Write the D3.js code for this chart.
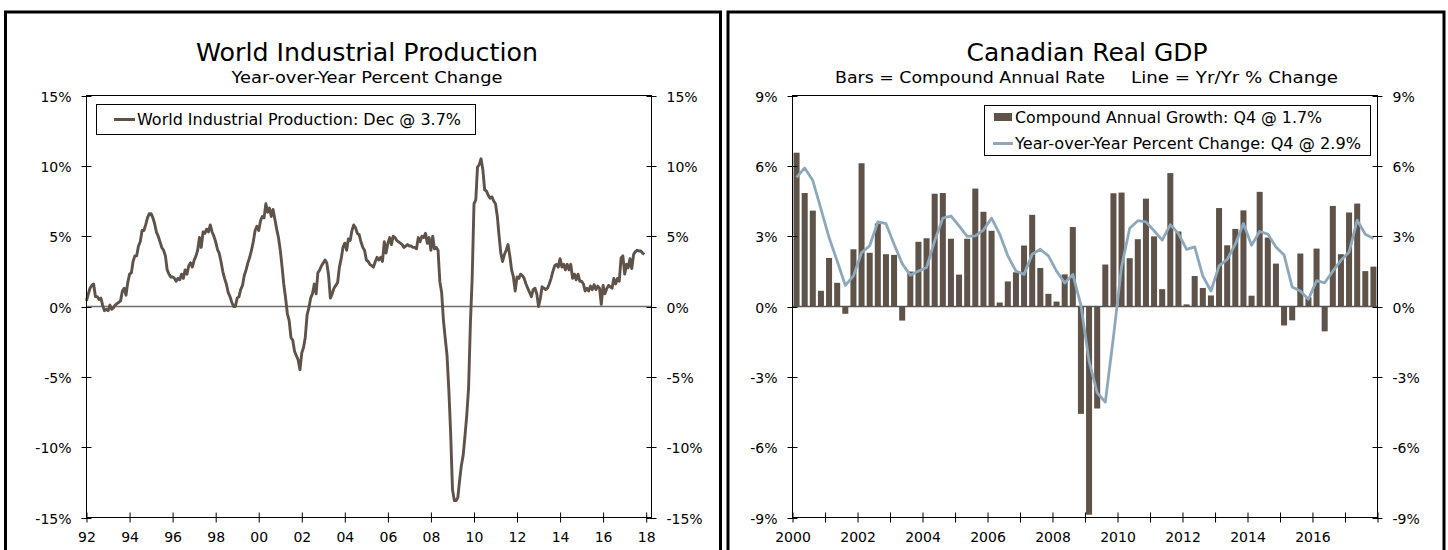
<!DOCTYPE html>
<html><head><meta charset="utf-8">
<script src="https://cdn.jsdelivr.net/npm/d3@7"></script>
<style>
body{margin:0;background:#fff}
svg{display:block}
text{font-family:"DejaVu Sans",Verdana,sans-serif;fill:#000}
</style>
</head><body>
<svg id="c" width="1448" height="550"></svg>
<script>
// ---------- DATA ----------
// World industrial production, yr/yr % change, monthly Jan 1992 .. Dec 2017
const ipStartYear = 1992;
const worldIP = [
  0.4, 0.9, 1.3, 1.5, 1.6, 0.7, 0.7, 0.5, 0.6, 0.1,-0.3,-0.2,   // 1992
 -0.3, 0.1,-0.2,-0.1, 0.1, 0.2, 0.3, 0.4, 1.1, 1.3, 0.8, 1.7,   // 1993
  2.3, 2.4, 3.2, 3.6, 3.6, 4.3, 4.6, 5.4, 5.4, 5.8, 6.3, 6.6,   // 1994
  6.6, 6.3, 5.9, 5.3, 5.0, 4.6, 4.2, 4.0, 3.6, 2.6, 2.3, 2.1,   // 1995
  2.1, 2.0, 1.8, 2.0, 1.9, 2.3, 2.0, 2.6, 2.3, 2.9, 3.1, 2.8,   // 1996
  3.3, 3.6, 4.0, 4.9, 4.2, 5.3, 5.2, 5.5, 5.3, 5.8, 5.3, 5.0,   // 1997
  4.6, 4.05,3.8, 3.2, 2.5, 2.0, 1.6, 1.0, 0.7, 0.3, 0.0, 0.0,   // 1998
  0.6, 0.7, 1.2, 1.5, 2.2, 2.6, 3.1, 3.5, 4.0, 4.6, 5.4, 5.7,   // 1999
  5.4, 6.1, 6.4, 6.3, 7.3, 6.7, 7.0, 6.4, 6.9, 6.2, 5.5, 4.9,   // 2000
  4.0, 2.8, 1.6, 0.6,-0.5,-1.0,-2.2,-2.4,-3.2,-3.5,-3.8,-4.5,   // 2001
 -3.3,-2.9,-2.2,-0.6,-0.1, 0.6, 0.9, 1.6, 0.9, 2.4, 2.6, 2.9,   // 2002
  3.1, 3.3, 3.1, 2.2, 0.6, 0.9, 1.3, 1.5, 1.7, 2.8, 3.4, 4.2,   // 2003
  4.5, 4.0, 4.8, 4.7, 5.4, 5.8, 5.6, 5.2, 5.1, 4.6, 4.2, 4.0,   // 2004
  3.3, 3.2, 3.0, 2.9, 2.8, 3.2, 3.5, 3.3, 3.5, 3.2, 4.6, 3.8,   // 2005
  4.5, 4.9, 4.4, 5.0, 4.9, 4.7, 4.6, 4.5, 4.4, 4.2, 4.3, 4.4,   // 2006
  4.3, 4.3, 4.2, 4.2, 4.1, 4.9, 4.6, 5.0, 4.9, 5.2, 4.5, 4.9,   // 2007
  4.0, 5.0, 4.1, 4.2, 4.0, 1.75,1.0,-1.0,-2.3,-3.5,-6.0,-9.0,   // 2008
-13.0,-13.8,-13.8,-13.6,-12.4,-11.3,-10.6,-9.2,-7.7,-5.8,-1.2,2.0, // 2009
  7.3, 7.6, 9.9,10.1,10.5, 9.7, 8.3, 8.2, 7.9, 7.7, 7.8, 7.5,   // 2010
  7.3, 6.4, 5.1, 3.8, 3.2, 3.7, 4.0, 4.4, 3.6, 2.6, 2.1, 1.1,   // 2011
  2.1, 2.0, 2.3, 2.2, 2.0, 1.6, 1.3, 1.0, 0.7, 1.2, 1.3, 0.9,   // 2012
  0.0, 0.6, 1.4, 1.3, 1.2, 1.3, 1.6, 2.0, 2.5, 2.9, 3.0, 2.8,   // 2013
  3.4, 2.8, 3.0, 2.6, 3.0, 2.6, 3.0, 2.0, 2.3, 1.9, 2.3, 1.8,   // 2014
  1.8, 1.6, 1.1, 1.3, 1.1, 1.45,1.2, 1.55,1.2, 1.45,1.3, 0.15,  // 2015
  1.5, 0.9, 1.25,1.5, 1.4, 1.3, 2.0, 1.6, 2.0, 1.8, 3.45,3.6,   // 2016
  2.3, 3.0, 2.75,3.4, 2.7, 3.7, 3.9, 4.0, 3.95,3.95,3.8, 3.7    // 2017
];
const ipTicksY = [15, 10, 5, 0, -5, -10, -15];
const ipTickYears = [1992,1994,1996,1998,2000,2002,2004,2006,2008,2010,2012,2014,2016,2018];

// Canadian real GDP, quarterly 2000Q1 .. 2017Q4
const gdpStartYear = 2000;
const gdpCAR = [   // compound annual rate (bars)
  6.56, 4.84, 4.09, 0.67,   2.07, 1.01,-0.31, 2.44,   6.11, 2.29, 3.54, 2.23,
  2.20,-0.60, 1.49, 2.76,   2.91, 4.81, 4.84, 2.89,   1.36, 2.89, 5.03, 4.04,
  3.23, 0.17, 1.07, 1.46,   2.60, 3.91, 1.64, 0.54,   0.21, 1.37, 3.39,-4.58,
 -8.88,-4.35, 1.79, 4.83,   4.86, 2.06, 2.87, 4.60,   2.99, 0.74, 5.69, 3.20,
  0.09, 1.30, 0.79, 0.47,   4.20, 2.61, 3.31, 4.10,   0.46, 4.89, 2.94, 1.83,
 -0.81,-0.59, 2.26, 0.40,   2.47,-1.06, 4.29, 2.23,   4.01, 4.39, 1.51, 1.70
];
const gdpYoY = [   // yr/yr % change (line)
  5.51, 5.91, 5.37, 4.16,   2.94, 1.94, 0.90, 1.30,   2.30, 2.59, 3.61, 3.54,
  2.66, 1.83, 1.33, 1.51,   1.66, 2.80, 3.77, 3.86,   3.44, 2.99, 3.01, 3.26,
  3.77, 3.09, 2.16, 1.51,   1.37, 2.23, 2.44, 2.16,   1.51, 1.00, 1.37, 0.05,
 -2.33,-3.68,-4.08,-1.30,   1.70, 3.34, 3.66, 3.61,   3.23, 2.83, 3.49, 3.11,
  2.44, 2.54, 1.30, 0.66,   1.73, 2.01, 2.66, 3.54,   2.61, 3.20, 3.09, 2.54,
  2.20, 0.83, 0.66, 0.31,   1.10, 1.01, 1.51, 1.97,   2.32, 3.68, 3.08, 2.90
];
const gdpTicksY = [9, 6, 3, 0, -3, -6, -9];
const gdpLabelYears = [2000,2002,2004,2006,2008,2010,2012,2014,2016];

// ---------- DRAW ----------
const svg = d3.select("#c");
const INK = "#000";
const BROWN = "#5e5249";
const BLUE = "#8da8ba";

// outer panel frames
svg.append("rect").attr("x",5.5).attr("y",12).attr("width",715).attr("height",600)
  .attr("fill","none").attr("stroke",INK).attr("stroke-width",3);
svg.append("rect").attr("x",728).attr("y",12).attr("width",716).attr("height",600)
  .attr("fill","none").attr("stroke",INK).attr("stroke-width",3);

function txt(g, x, y, s, size, anchor, len){
  const t = g.append("text").attr("x",x).attr("y",y).attr("text-anchor",anchor||"start")
    .style("font-size",size+"px").text(s);
  if(len) t.attr("textLength",len).attr("lengthAdjust","spacingAndGlyphs");
  return t;
}
function frame(g, x0, x1, y0, y1){
  g.append("rect").attr("x",x0).attr("y",y0).attr("width",x1-x0).attr("height",y1-y0)
    .attr("fill","none").attr("stroke","#000").attr("stroke-width",1);
}
function yAxes(g, y, ticks, x0, x1){
  const fmt = d => d + "%";
  ticks.forEach(t=>{
    const yy = Math.round(y(t))+0.5;
    g.append("line").attr("x1",x0-5).attr("x2",x0+5).attr("y1",yy).attr("y2",yy).attr("stroke","#000");
    g.append("line").attr("x1",x1-5).attr("x2",x1+5).attr("y1",yy).attr("y2",yy).attr("stroke","#000");
    g.append("text").attr("x",x0-15).attr("y",yy).attr("dy","0.36em").attr("text-anchor","end")
      .style("font-size","14px").text(fmt(t));
    g.append("text").attr("x",x1+15).attr("y",yy).attr("dy","0.36em").attr("text-anchor","start")
      .style("font-size","14px").text(fmt(t));
  });
}

// ===== LEFT: World Industrial Production =====
{
  const L = {x0:86.5, x1:651.5, y0:95.5, y1:517.5};
  const g = svg.append("g");
  const x = d3.scaleTime().domain([new Date(1992,0,1), new Date(2018,3,1)]).range([L.x0, L.x1]);
  const y = d3.scaleLinear().domain([-15,15]).range([L.y1, L.y0]);
  const data = worldIP.map((v,i)=>({d:new Date(ipStartYear + Math.floor(i/12), i%12, 1), v}));

  g.append("line").attr("x1",L.x0).attr("x2",L.x1).attr("y1",y(0)).attr("y2",y(0))
    .attr("stroke","#6e6e6e").attr("stroke-width",1.3);

  g.append("path").datum(data).attr("fill","none").attr("stroke",BROWN).attr("stroke-width",2.9)
    .attr("stroke-linejoin","round")
    .attr("d", d3.line().x(d=>x(d.d)).y(d=>y(d.v)));

  frame(g, L.x0, L.x1, L.y0, L.y1);
  yAxes(g, y, ipTicksY, L.x0, L.x1);

  const xa = g.append("g").attr("transform",`translate(0,${L.y1})`)
    .call(d3.axisBottom(x).tickValues(ipTickYears.map(yr=>new Date(yr,0,1)))
      .tickSize(5).tickFormat(d=>d3.timeFormat("%y")(d)));
  xa.select(".domain").remove();
  xa.selectAll(".tick line").attr("y1",-5).attr("stroke","#000");
  xa.selectAll(".tick text").attr("y",15).style("font-size","14px")
    .style("font-family","'DejaVu Sans',Verdana,sans-serif").attr("fill","#000");

  txt(g, 367, 61, "World Industrial Production", 25, "middle", 342);
  txt(g, 367, 83, "Year-over-Year Percent Change", 15.5, "middle", 271);

  g.append("rect").attr("x",96.5).attr("y",104.5).attr("width",379).attr("height",30)
    .attr("fill","#fff").attr("stroke","#000");
  g.append("line").attr("x1",114).attr("x2",135).attr("y1",119.5).attr("y2",119.5)
    .attr("stroke",BROWN).attr("stroke-width",3);
  txt(g, 137, 125, "World Industrial Production: Dec @ 3.7%", 15.5, "start", 324);
}

// ===== RIGHT: Canadian Real GDP =====
{
  const R = {x0:792.5, x1:1377.5, y0:95.5, y1:517.5};
  const g = svg.append("g");
  const quarters = gdpCAR.map((v,i)=> `${gdpStartYear + Math.floor(i/4)}Q${i%4+1}`);
  const xb = d3.scaleBand().domain(quarters).range([R.x0, R.x1]).paddingInner(0.26).paddingOuter(0.13);
  const xt = d3.scaleTime().domain([new Date(2000,0,1), new Date(2018,0,1)]).range([R.x0, R.x1]);
  const y = d3.scaleLinear().domain([-9,9]).range([R.y1, R.y0]);

  g.selectAll("rect.bar").data(gdpCAR).join("rect").attr("class","bar")
    .attr("x",(d,i)=>xb(quarters[i])).attr("width",xb.bandwidth())
    .attr("y",d=>y(Math.max(0,d))).attr("height",d=>Math.abs(y(d)-y(0)))
    .attr("fill",BROWN);

  g.append("line").attr("x1",R.x0).attr("x2",R.x1).attr("y1",y(0)).attr("y2",y(0))
    .attr("stroke","#555").attr("stroke-width",1.3);

  g.append("path").datum(gdpYoY).attr("fill","none").attr("stroke",BLUE).attr("stroke-width",2.8)
    .attr("stroke-linejoin","round")
    .attr("d", d3.line().x((d,i)=>xb(quarters[i]) + xb.bandwidth()/2).y(d=>y(d)));

  frame(g, R.x0, R.x1, R.y0, R.y1);
  yAxes(g, y, gdpTicksY, R.x0, R.x1);

  const yrs = d3.range(2000, 2019);
  const xa = g.append("g").attr("transform",`translate(0,${R.y1})`)
    .call(d3.axisBottom(xt).tickValues(yrs.map(yr=>new Date(yr,0,1))).tickSize(5)
      .tickFormat(d=> gdpLabelYears.includes(d.getFullYear()) ? d.getFullYear() : ""));
  xa.select(".domain").remove();
  xa.selectAll(".tick line").attr("y1",-5).attr("stroke","#000");
  xa.selectAll(".tick text").attr("y",15).style("font-size","14px")
    .style("font-family","'DejaVu Sans',Verdana,sans-serif").attr("fill","#000");

  txt(g, 1087, 61, "Canadian Real GDP", 25, "middle", 241);
  txt(g, 835, 83, "Bars = Compound Annual Rate", 15.5, "start", 270);
  txt(g, 1131, 83, "Line = Yr/Yr % Change", 15.5, "start", 207);

  g.append("rect").attr("x",984.5).attr("y",105.5).attr("width",386).attr("height",50)
    .attr("fill","#fff").attr("stroke","#000");
  g.append("rect").attr("x",994).attr("y",113).attr("width",18).attr("height",8).attr("fill",BROWN);
  txt(g, 1015, 123, "Compound Annual Growth: Q4 @ 1.7%", 15.5, "start", 307);
  g.append("line").attr("x1",993).attr("x2",1013).attr("y1",143.5).attr("y2",143.5)
    .attr("stroke",BLUE).attr("stroke-width",3);
  txt(g, 1015, 149, "Year-over-Year Percent Change: Q4 @ 2.9%", 15.5, "start", 346);
}
</script>
</body></html>
